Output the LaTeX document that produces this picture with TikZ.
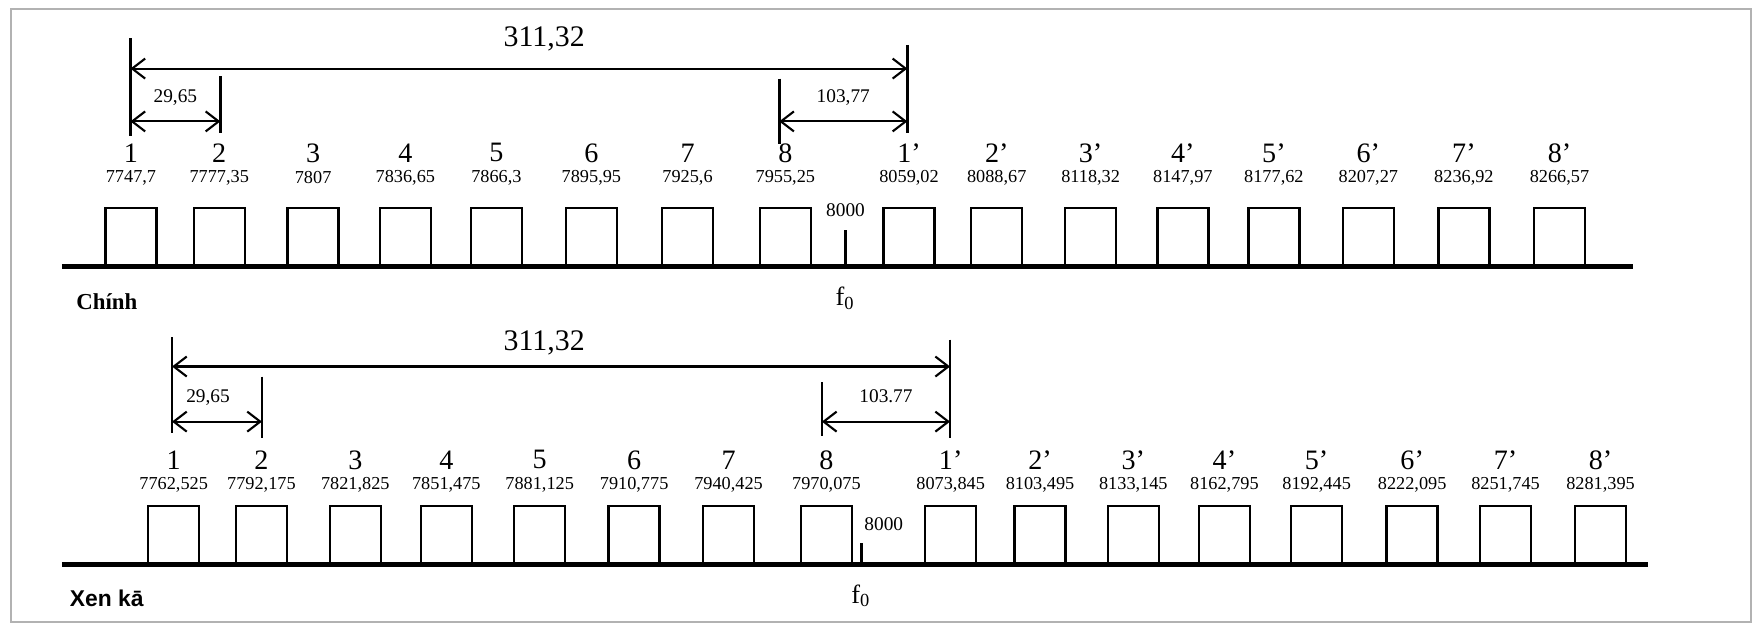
\documentclass[tikz,border=0pt]{standalone}
\usepackage{fontspec}
\setmainfont{Liberation Serif}
\newfontfamily\labelsans{Liberation Sans}
\usetikzlibrary{arrows.meta}

\begin{document}
\begin{tikzpicture}[
		x=0.011244cm, y=-0.011244cm,
		slot/.style={draw, line width=0.7pt, minimum width=0.51cm, minimum height=0.57cm, inner sep=0pt, anchor=south},
		chan/.style={font=\fontsize{8}{9}\selectfont, inner sep=0pt},
		freq/.style={font=\fontsize{5.2}{6}\selectfont, inner sep=0pt},
		dimtext/.style={font=\fontsize{8.5}{10}\selectfont, inner sep=0pt},
		smalltext/.style={font=\fontsize{5.5}{6}\selectfont, inner sep=0pt},
		axis/.style={line width=1.4pt},
		guide/.style={line width=0.8pt},
		dimarrow/.style={line width=0.6pt, <->, >={Straight Barb[length=1.3mm, width=2mm]}}
		]
		\useasboundingbox (0,0) rectangle (1568,557);
		\draw[gray!60, line width=0.6pt] (10,8) rectangle (1557,553);
		
		% Chính
		\draw[axis] (55,237) -- (1452,237);
		\foreach \n/\x/\lab/\val in {1/116.5/1/{7747,7}, 2/195/2/{7777,35}, 3/278.5/3/{7807}, 4/360.5/4/{7836,65},
			5/441.5/5/{7866,3}, 6/526/6/{7895,95}, 7/611.5/7/{7925,6}, 8/698.5/8/{7955,25},
			9/808.5/1'/{8059,02}, 10/886.5/2'/{8088,67}, 11/970/3'/{8118,32}, 12/1052/4'/{8147,97},
			13/1133/5'/{8177,62}, 14/1217/6'/{8207,27}, 15/1302/7'/{8236,92}, 16/1387/8'/{8266,57}}{
			\node[slot] (T\n) at (\x,237) {};
			\node[chan] (TL\n) at (\x,136) {\lab};
			\node[freq] (TF\n) at (\x,158) {\val};
		}
		\coordinate (tc0) at (752,205);
		\coordinate (tc1) at (752,237);
		\draw[guide] (tc0) -- (tc1);
		\node[smalltext] (T8000) at (752,187) {8000};
		\node[font=\fontsize{7.5}{9}\selectfont, inner sep=0pt] (tf0) at (752,265) {f\textsubscript{0}};
		\node[font=\bfseries\fontsize{6.5}{7}\selectfont, inner sep=0pt] (tname) at (95,268) {Chính};
		
		% Khoảng cách (hàng trên)
		\coordinate (tg1a) at (116,34);  \coordinate (tg1b) at (116,121);
		\coordinate (tg2a) at (196,68);  \coordinate (tg2b) at (196,118);
		\coordinate (tg8a) at (693,70);  \coordinate (tg8b) at (693,128);
		\coordinate (tg9a) at (807,40);  \coordinate (tg9b) at (807,118);
		\foreach \g in {1,2,8,9}{
			\draw[guide] (tg\g a) -- (tg\g b);
		}
		\coordinate (ta1) at (116,61);  \coordinate (ta2) at (807,61);
		\coordinate (ts1) at (116,108); \coordinate (ts2) at (196,108);
		\coordinate (tr1) at (693,108); \coordinate (tr2) at (807,108);
		\draw[dimarrow] (ta1) -- (ta2);
		\draw[dimarrow] (ts1) -- (ts2);
		\draw[dimarrow] (tr1) -- (tr2);
		\node[dimtext] (tlong) at (484,35) {311,32};
		\node[smalltext] (tshort) at (156,87) {29,65};
		\node[smalltext] (tright) at (750,87) {103,77};
		
		% Xen kā
		\draw[axis] (55,502) -- (1466,502);
		\foreach \n/\x/\lab/\val in {1/154.5/1/{7762,525}, 2/232.5/2/{7792,175}, 3/316/3/{7821,825}, 4/397/4/{7851,475},
			5/480/5/{7881,125}, 6/564/6/{7910,775}, 7/648/7/{7940,425}, 8/735/8/{7970,075},
			9/845.5/1'/{8073,845}, 10/925/2'/{8103,495}, 11/1008/3'/{8133,145}, 12/1089/4'/{8162,795},
			13/1171/5'/{8192,445}, 14/1256/6'/{8222,095}, 15/1339/7'/{8251,745}, 16/1423.5/8'/{8281,395}}{
			\node[slot] (B\n) at (\x,502) {};
			\node[chan] (BL\n) at (\x,409) {\lab};
			\node[freq] (BF\n) at (\x,431) {\val};
		}
		\coordinate (bc0) at (766,483);
		\coordinate (bc1) at (766,502);
		\draw[guide] (bc0) -- (bc1);
		\node[smalltext] (B8000) at (786,466) {8000};
		\node[font=\fontsize{7.5}{9}\selectfont, inner sep=0pt] (bf0) at (766,530) {f\textsubscript{0}};
		\node[font=\labelsans\bfseries\fontsize{6.5}{7}\selectfont, inner sep=0pt] (bname) at (95,532) {Xen kā};
		
		% Khoảng cách (hàng dưới)
		\coordinate (bg1a) at (153,300);  \coordinate (bg1b) at (153,385);
		\coordinate (bg2a) at (233,335);  \coordinate (bg2b) at (233,390);
		\coordinate (bg8a) at (731,340);  \coordinate (bg8b) at (731,388);
		\coordinate (bg9a) at (845,302);  \coordinate (bg9b) at (845,390);
		\foreach \g in {1,2,8,9}{
			\draw[guide] (bg\g a) -- (bg\g b);
		}
		\coordinate (ba1) at (153,326);  \coordinate (ba2) at (845,326);
		\coordinate (bs1) at (153,375);  \coordinate (bs2) at (233,375);
		\coordinate (br1) at (731,375);  \coordinate (br2) at (845,375);
		\draw[dimarrow] (ba1) -- (ba2);
		\draw[dimarrow] (bs1) -- (bs2);
		\draw[dimarrow] (br1) -- (br2);
		\node[dimtext] (blong) at (484,305) {311,32};
		\node[smalltext] (bshort) at (185,354) {29,65};
		\node[smalltext] (bright) at (788,352) {103.77};
	\end{tikzpicture}
\end{document}
